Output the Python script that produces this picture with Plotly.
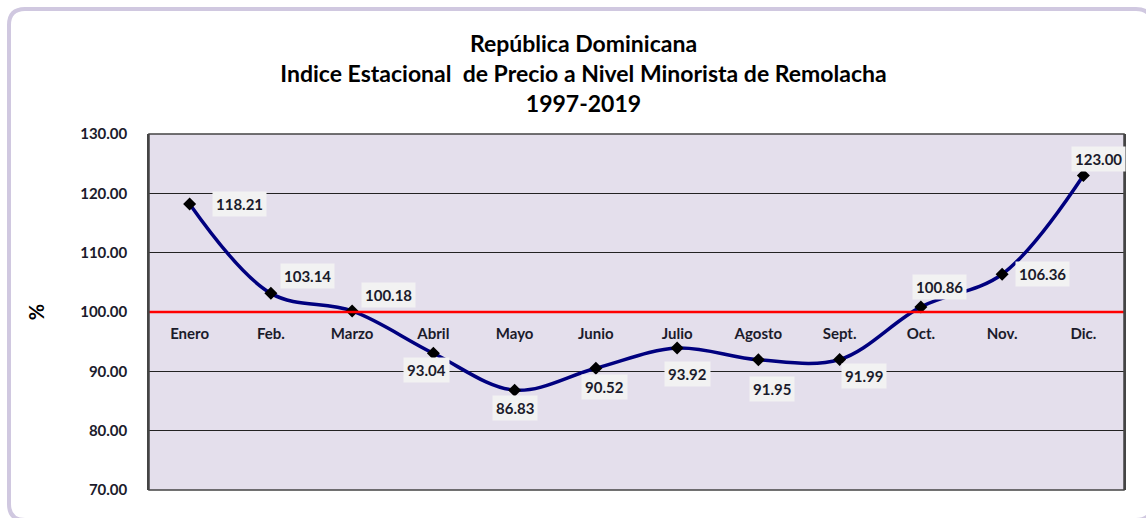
import plotly.graph_objects as go

months = ["Enero", "Feb.", "Marzo", "Abril", "Mayo", "Junio", "Julio",
          "Agosto", "Sept.", "Oct.", "Nov.", "Dic."]
index_values = [118.21, 103.14, 100.18, 93.04, 86.83, 90.52, 93.92,
                91.95, 91.99, 100.86, 106.36, 123.00]
y_ticks = [70, 80, 90, 100, 110, 120, 130]
reference_level = 100

# label offsets (pixels) for each data label
label_dx = [50, 37, 36, -7, 0, 9, 10, 14, 24, 19, 40, 15]
label_dy = [0, 17, 16, -17, -18, -19, -26, -29, -16, 20, 0, 17]

W, H = 1146, 518
L, R, T, B = 149, 22, 134, 28
pw, ph = W - L - R, H - T - B

FONT = "Lato"
TXT = "#1b1b2b"

fig = go.Figure()
fig.add_trace(go.Scatter(
    x=list(range(len(months))), y=index_values,
    mode="lines+markers",
    line=dict(color="#00007f", width=3.5, shape="spline", smoothing=1.0),
    marker=dict(symbol="diamond", size=10, color="black"),
    hoverinfo="skip", showlegend=False,
))

for i, v in enumerate(index_values):
    fig.add_annotation(
        x=i, y=v, xref="x", yref="y", text=f"{v:.2f}", showarrow=False,
        xshift=label_dx[i], yshift=label_dy[i],
        font=dict(family=FONT, size=15, color=TXT, weight="bold"),
        bgcolor="#f2f2f2", borderpad=3,
    )

# reference line at 100
fig.add_shape(type="line", xref="paper", yref="y", x0=0, x1=1,
              y0=reference_level, y1=reference_level,
              line=dict(color="#ff0000", width=2.5), layer="above")

# outer rounded border
def px2x(px):
    return (px - L) / pw
def py2y(py):
    return (H - B - py) / ph
x0, x1 = px2x(9), px2x(1152)
y0, y1 = py2y(520), py2y(9)
rx, ry = 16 / pw, 16 / ph
path = (f"M {x0+rx},{y1} L {x1-rx},{y1} Q {x1},{y1} {x1},{y1-ry} "
        f"L {x1},{y0+ry} Q {x1},{y0} {x1-rx},{y0} L {x0+rx},{y0} "
        f"Q {x0},{y0} {x0},{y0+ry} L {x0},{y1-ry} Q {x0},{y1} {x0+rx},{y1} Z")
fig.add_shape(type="path", xref="paper", yref="paper", path=path,
              line=dict(color="#d0c8e0", width=4), layer="below")

fig.update_layout(
    width=W, height=H,
    margin=dict(l=L, r=R, t=T, b=B, autoexpand=False),
    paper_bgcolor="white", plot_bgcolor="#e4dfec",
    title=dict(
        text="República Dominicana<br>Indice Estacional  de Precio a Nivel Minorista de Remolacha<br>1997-2019",
        x=583.5 / W, xref="container", xanchor="center",
        y=1 - 52 / H, yref="container", yanchor="top",
        font=dict(family=FONT, size=23, color="black", weight="bold"),
    ),
    xaxis=dict(
        range=[-0.5, len(months) - 0.5],
        tickmode="array", tickvals=list(range(len(months))), ticktext=months,
        showgrid=False, zeroline=False, showline=False, ticks="",
        anchor="free", position=(reference_level - 70) / 60,
        tickfont=dict(family=FONT, size=15, color=TXT, weight="bold"),
        ticklabelstandoff=11,
    ),
    yaxis=dict(
        range=[70, 130], tickvals=y_ticks, tickformat=".2f",
        showgrid=True, gridcolor="#222222", gridwidth=1,
        zeroline=False, showline=True, linecolor="#444444", linewidth=1.5,
        mirror=True, ticks="", ticklabelstandoff=17,
        tickfont=dict(family=FONT, size=15, color=TXT, weight="bold"),
        title=dict(text="%", standoff=30,
                   font=dict(family=FONT, size=20, color="black", weight="bold")),
    ),
)

# plot-area border
fig.add_shape(type="rect", xref="paper", yref="paper", x0=0, x1=1, y0=0, y1=1,
              line=dict(color="#444444", width=1.5), layer="above")

fig.write_html("out.html", config={"displayModeBar": False},
               post_script="document.body.style.margin='0';")
